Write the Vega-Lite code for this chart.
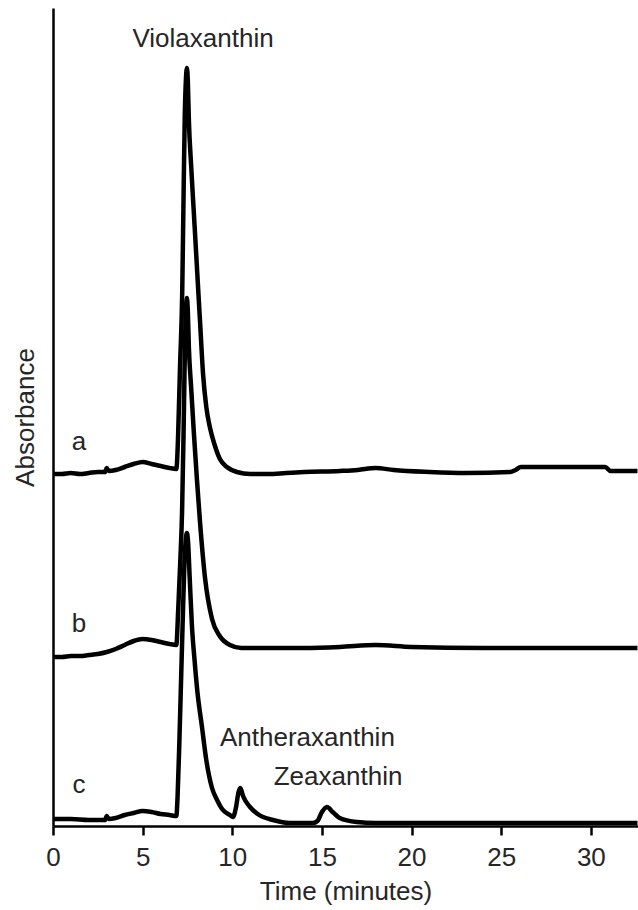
{
  "$schema": "https://vega.github.io/schema/vega-lite/v6.json",
  "width": 585,
  "height": 818,
  "autosize": {"type": "none"},
  "padding": {"left": 53, "top": 8, "right": 0, "bottom": 84},
  "background": "white",
  "config": {
    "font": "Liberation Sans",
    "view": {"stroke": null},
    "axis": {"grid": false, "titleFontWeight": "normal", "titleColor": "#262626", "labelColor": "#262626", "domainColor": "black", "domainWidth": 2.5, "tickColor": "black", "tickWidth": 2.5}
  },
  "datasets": {
    "traces": [
      {"s":"a","t":0,"v":352},{"s":"a","t":0.5,"v":352},{"s":"a","t":1,"v":353},{"s":"a","t":1.5,"v":352},{"s":"a","t":2,"v":353},{"s":"a","t":2.5,"v":354},{"s":"a","t":2.9,"v":354},{"s":"a","t":3.0,"v":358},{"s":"a","t":3.1,"v":355},{"s":"a","t":3.5,"v":356},{"s":"a","t":4,"v":359},{"s":"a","t":4.5,"v":362},{"s":"a","t":5,"v":364},{"s":"a","t":5.5,"v":362},{"s":"a","t":6,"v":360},{"s":"a","t":6.5,"v":358},{"s":"a","t":6.88,"v":357},{"s":"a","t":6.97,"v":386},{"s":"a","t":7.08,"v":456},{"s":"a","t":7.21,"v":536},{"s":"a","t":7.29,"v":640},{"s":"a","t":7.35,"v":710},{"s":"a","t":7.41,"v":745},{"s":"a","t":7.47,"v":758},{"s":"a","t":7.52,"v":745},{"s":"a","t":7.58,"v":705},{"s":"a","t":7.7,"v":662},{"s":"a","t":7.85,"v":615},{"s":"a","t":8.0,"v":568},{"s":"a","t":8.1,"v":536},{"s":"a","t":8.2,"v":505},{"s":"a","t":8.37,"v":452},{"s":"a","t":8.55,"v":419},{"s":"a","t":8.76,"v":398},{"s":"a","t":9.0,"v":382},{"s":"a","t":9.31,"v":367},{"s":"a","t":9.7,"v":359},{"s":"a","t":10.26,"v":354},{"s":"a","t":11,"v":352},{"s":"a","t":12,"v":352},{"s":"a","t":13,"v":353},{"s":"a","t":14,"v":354},{"s":"a","t":16,"v":355},{"s":"a","t":17,"v":356},{"s":"a","t":18,"v":358},{"s":"a","t":19,"v":356},{"s":"a","t":21,"v":354},{"s":"a","t":23,"v":353},{"s":"a","t":25.5,"v":354},{"s":"a","t":25.8,"v":356},{"s":"a","t":26.1,"v":359},{"s":"a","t":28,"v":359},{"s":"a","t":30.8,"v":359},{"s":"a","t":31.1,"v":355},{"s":"a","t":32.6,"v":355},
      {"s":"b","t":0,"v":169},{"s":"b","t":0.5,"v":169},{"s":"b","t":1,"v":170},{"s":"b","t":1.5,"v":170},{"s":"b","t":2,"v":171},{"s":"b","t":2.5,"v":172},{"s":"b","t":3,"v":174},{"s":"b","t":3.5,"v":177},{"s":"b","t":4,"v":181},{"s":"b","t":4.5,"v":185},{"s":"b","t":5,"v":187},{"s":"b","t":5.5,"v":186},{"s":"b","t":6,"v":184},{"s":"b","t":6.5,"v":182},{"s":"b","t":6.88,"v":181},{"s":"b","t":6.98,"v":215},{"s":"b","t":7.1,"v":265},{"s":"b","t":7.2,"v":315},{"s":"b","t":7.28,"v":390},{"s":"b","t":7.35,"v":470},{"s":"b","t":7.41,"v":515},{"s":"b","t":7.47,"v":528},{"s":"b","t":7.52,"v":515},{"s":"b","t":7.58,"v":478},{"s":"b","t":7.7,"v":440},{"s":"b","t":7.85,"v":395},{"s":"b","t":8.03,"v":346},{"s":"b","t":8.2,"v":304},{"s":"b","t":8.48,"v":248},{"s":"b","t":8.87,"v":207},{"s":"b","t":9.3,"v":190},{"s":"b","t":9.87,"v":181},{"s":"b","t":10.5,"v":178},{"s":"b","t":12,"v":178},{"s":"b","t":14,"v":178},{"s":"b","t":16,"v":179},{"s":"b","t":18,"v":181},{"s":"b","t":20,"v":179},{"s":"b","t":24,"v":178},{"s":"b","t":28,"v":178},{"s":"b","t":32.6,"v":178},
      {"s":"c","t":0,"v":7},{"s":"c","t":1,"v":7},{"s":"c","t":2,"v":6},{"s":"c","t":2.9,"v":6},{"s":"c","t":3.0,"v":10},{"s":"c","t":3.1,"v":7},{"s":"c","t":3.5,"v":8},{"s":"c","t":4,"v":11},{"s":"c","t":4.5,"v":13},{"s":"c","t":5,"v":15},{"s":"c","t":5.5,"v":14},{"s":"c","t":6,"v":12},{"s":"c","t":6.5,"v":11},{"s":"c","t":6.88,"v":10},{"s":"c","t":6.95,"v":30},{"s":"c","t":7.05,"v":85},{"s":"c","t":7.15,"v":150},{"s":"c","t":7.25,"v":215},{"s":"c","t":7.33,"v":262},{"s":"c","t":7.4,"v":285},{"s":"c","t":7.47,"v":293},{"s":"c","t":7.53,"v":285},{"s":"c","t":7.62,"v":250},{"s":"c","t":7.75,"v":200},{"s":"c","t":7.9,"v":165},{"s":"c","t":8.05,"v":135},{"s":"c","t":8.31,"v":99},{"s":"c","t":8.55,"v":66},{"s":"c","t":8.87,"v":38},{"s":"c","t":9.15,"v":26},{"s":"c","t":9.43,"v":17},{"s":"c","t":9.87,"v":11},{"s":"c","t":10.04,"v":9},{"s":"c","t":10.2,"v":18},{"s":"c","t":10.35,"v":34},{"s":"c","t":10.45,"v":38},{"s":"c","t":10.6,"v":30},{"s":"c","t":10.99,"v":19},{"s":"c","t":11.5,"v":11},{"s":"c","t":12.27,"v":6},{"s":"c","t":13.22,"v":3},{"s":"c","t":14.5,"v":3},{"s":"c","t":14.75,"v":5},{"s":"c","t":15.0,"v":14},{"s":"c","t":15.28,"v":19},{"s":"c","t":15.6,"v":14},{"s":"c","t":15.99,"v":8},{"s":"c","t":16.95,"v":4},{"s":"c","t":18,"v":3},{"s":"c","t":22,"v":3},{"s":"c","t":26,"v":3},{"s":"c","t":32.6,"v":3}
    ],
    "labels": [
      {"label":"Violaxanthin","t":8.37,"v":779},
      {"label":"a","t":1.45,"v":376},
      {"label":"b","t":1.45,"v":194},
      {"label":"c","t":1.45,"v":33},
      {"label":"Antheraxanthin","t":14.19,"v":80},
      {"label":"Zeaxanthin","t":15.9,"v":41}
    ]
  },
  "layer": [
    {
      "data": {"name": "traces"},
      "mark": {"type": "line", "color": "black", "strokeWidth": 4.5, "interpolate": "monotone", "clip": true},
      "encoding": {
        "x": {"field": "t", "type": "quantitative", "scale": {"domain": [0, 32.63], "nice": false, "zero": false},
              "axis": {"title": "Time (minutes)", "values": [0,5,10,15,20,25,30], "tickSize": 9, "labelFontSize": 26, "labelPadding": 9, "labelFlush": false, "titleFontSize": 26, "titlePadding": 8}},
        "y": {"field": "v", "type": "quantitative", "scale": {"domain": [0, 818], "nice": false},
              "axis": {"title": "Absorbance", "labels": false, "ticks": false, "titleFontSize": 26, "titlePadding": 15}},
        "detail": {"field": "s"}
      }
    },
    {
      "data": {"name": "labels"},
      "mark": {"type": "text", "fontSize": 26, "color": "#262626", "align": "center", "baseline": "alphabetic"},
      "encoding": {
        "x": {"field": "t", "type": "quantitative"},
        "y": {"field": "v", "type": "quantitative"},
        "text": {"field": "label"}
      }
    },
    {
      "mark": {"type": "rule", "color": "black", "strokeWidth": 2.5},
      "encoding": {"y": {"datum": 818}}
    }
  ]
}
